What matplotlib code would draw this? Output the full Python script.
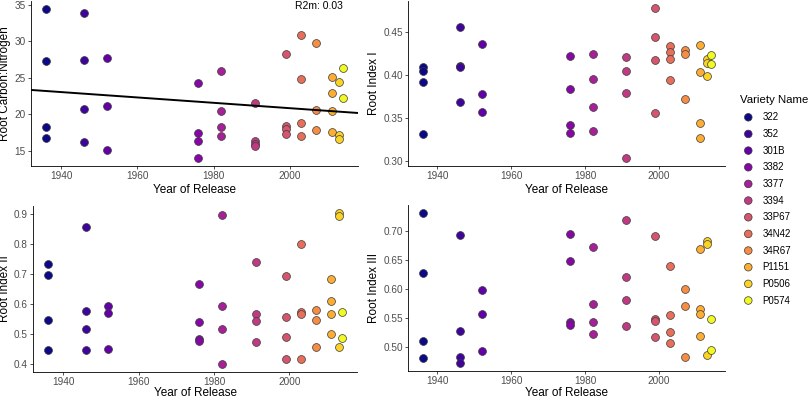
import numpy as np
import matplotlib
matplotlib.use('Agg')
import matplotlib.pyplot as plt

plt.rcParams['font.family'] = ['Liberation Sans', 'DejaVu Sans']

# --- data ---
varieties = ['322', '352', '301B', '3382', '3377', '3394', '33P67',
             '34N42', '34R67', 'P1151', 'P0506', 'P0574']
release_year = [1936, 1946, 1952, 1976, 1982, 1991, 1999,
                2003, 2007, 2011, 2013, 2014]

carbon_nitrogen = {
    '322': [34.45, 27.36, 18.27, 16.77],
    '352': [33.9, 27.5, 20.68, 16.18],
    '301B': [27.73, 21.14, 15.18],
    '3382': [24.36, 17.4, 16.4, 14.0],
    '3377': [25.95, 20.5, 18.27, 17.05],
    '3394': [21.6, 16.35, 15.95, 15.7],
    '33P67': [28.3, 18.45, 17.95, 17.3],
    '34N42': [30.86, 24.8, 18.77, 17.09],
    '34R67': [29.8, 20.6, 17.9],
    'P1151': [25.05, 22.95, 20.5, 17.6],
    'P0506': [24.45, 17.18, 16.68],
    'P0574': [26.4, 22.2],
}
root_index_1 = {
    '322': [0.410, 0.405, 0.3925, 0.331],
    '352': [0.4558, 0.411, 0.409, 0.369],
    '301B': [0.436, 0.3785, 0.3567],
    '3382': [0.4228, 0.3836, 0.342, 0.333],
    '3377': [0.425, 0.395, 0.3634, 0.335],
    '3394': [0.4209, 0.4053, 0.3793, 0.3031],
    '33P67': [0.478, 0.445, 0.4174, 0.3556],
    '34N42': [0.4337, 0.4267, 0.4185, 0.3944],
    '34R67': [0.4294, 0.4244, 0.3727],
    'P1151': [0.4356, 0.4042, 0.344, 0.3268],
    'P0506': [0.4185, 0.414, 0.399],
    'P0574': [0.4236, 0.4128],
}
root_index_2 = {
    '322': [0.732, 0.695, 0.546, 0.446],
    '352': [0.8555, 0.578, 0.516, 0.446],
    '301B': [0.593, 0.569, 0.452],
    '3382': [0.665, 0.541, 0.483, 0.476],
    '3377': [0.897, 0.594, 0.518, 0.400],
    '3394': [0.741, 0.566, 0.545, 0.475],
    '33P67': [0.692, 0.558, 0.491, 0.418],
    '34N42': [0.801, 0.574, 0.568, 0.417],
    '34R67': [0.579, 0.547, 0.458],
    'P1151': [0.683, 0.610, 0.566, 0.501],
    'P0506': [0.901, 0.893, 0.458],
    'P0574': [0.574, 0.487],
}
root_index_3 = {
    '322': [0.7305, 0.6276, 0.5098, 0.4799],
    '352': [0.692, 0.5276, 0.4822, 0.4713],
    '301B': [0.5971, 0.5563, 0.492],
    '3382': [0.6948, 0.6471, 0.5425, 0.538],
    '3377': [0.6713, 0.573, 0.5425, 0.5218],
    '3394': [0.7178, 0.6207, 0.581, 0.5356],
    '33P67': [0.6908, 0.5483, 0.5443, 0.5172],
    '34N42': [0.639, 0.5546, 0.5259, 0.5057],
    '34R67': [0.5994, 0.5695, 0.4828],
    'P1151': [0.669, 0.565, 0.5557, 0.5184],
    'P0506': [0.6816, 0.677, 0.4856],
    'P0574': [0.5483, 0.4948],
}

# fitted trend for C:N
trend_at_1975 = 21.77
trend_slope = -0.0367
r2m_text = 'R2m: 0.03'

colors = plt.cm.plasma(np.linspace(0, 1, len(varieties)))
tick_col = '#4D4D4D'


def pad_limits(vals, frac=0.05):
    lo, hi = min(vals), max(vals)
    d = (hi - lo) * frac
    return lo - d, hi + d


def draw_panel(ax, data, ylabel, yticks, yfmt, xpad=2):
    all_y = []
    for i, v in enumerate(varieties):
        ys = data[v]
        all_y += ys
        ax.scatter([release_year[i]] * len(ys), ys, s=32, color=colors[i],
                   edgecolor='#3a3a3a', linewidth=0.5, zorder=3)
    ax.set_xlim(pad_limits(release_year))
    ax.set_ylim(pad_limits(all_y))
    ax.set_xticks([1940, 1960, 1980, 2000])
    ax.set_yticks(yticks)
    ax.set_yticklabels([yfmt.format(t) for t in yticks])
    ax.set_xlabel('Year of Release', fontsize=8.5, labelpad=xpad)
    ax.set_ylabel(ylabel, fontsize=8.5, labelpad=2)
    for s in ['top', 'right']:
        ax.spines[s].set_visible(False)
    for s in ['left', 'bottom']:
        ax.spines[s].set_linewidth(0.6)
    ax.tick_params(labelsize=7.2, colors=tick_col, length=2.5, width=0.6, pad=1.5)
    ax.tick_params(axis='both', which='both', color='#333333')


fig = plt.figure(figsize=(8.11, 3.98), dpi=100)
ax1 = fig.add_axes([0.0382, 0.5834, 0.4032, 0.4136])
ax2 = fig.add_axes([0.5035, 0.5834, 0.3905, 0.4146])
ax3 = fig.add_axes([0.0411, 0.0661, 0.3991, 0.4166])
ax4 = fig.add_axes([0.5035, 0.0681, 0.3905, 0.4156])

draw_panel(ax1, carbon_nitrogen, 'Root Carbon:Nitrogen', [15, 20, 25, 30, 35], '{:.0f}')
draw_panel(ax2, root_index_1, 'Root Index I', [0.30, 0.35, 0.40, 0.45], '{:.2f}')
draw_panel(ax3, root_index_2, 'Root Index II', [0.4, 0.5, 0.6, 0.7, 0.8, 0.9], '{:.1f}', xpad=0)
draw_panel(ax4, root_index_3, 'Root Index III', [0.50, 0.55, 0.60, 0.65, 0.70], '{:.2f}', xpad=0.5)

# trend line across the full x range
xl = np.array(ax1.get_xlim())
ax1.plot(xl, trend_at_1975 + trend_slope * (xl - 1975), color='black', lw=1.4, zorder=4)
ax1.set_xlim(xl)
ax1.text(0.882, 0.971, r2m_text, transform=ax1.transAxes, ha='center', va='center',
         fontsize=7.5, color='black')

# legend drawn in its own axes
lax = fig.add_axes([0.905, 0.201, 0.095, 0.588])
lax.set_xlim(0, 1)
lax.set_ylim(len(varieties) + 0.05, -2.0)
lax.axis('off')
idx = np.arange(len(varieties))
lax.scatter(np.full(len(varieties), 0.186), idx, s=30, color=colors,
            edgecolor='#3a3a3a', linewidth=0.5)
for i, name in enumerate(varieties):
    lax.text(0.373, i, name, va='center', ha='left', fontsize=7, color='black')
lax.text(0.08, -1.04, 'Variety Name', va='center', ha='left', fontsize=8.2, color='black')

plt.savefig('out.png', dpi=100)
